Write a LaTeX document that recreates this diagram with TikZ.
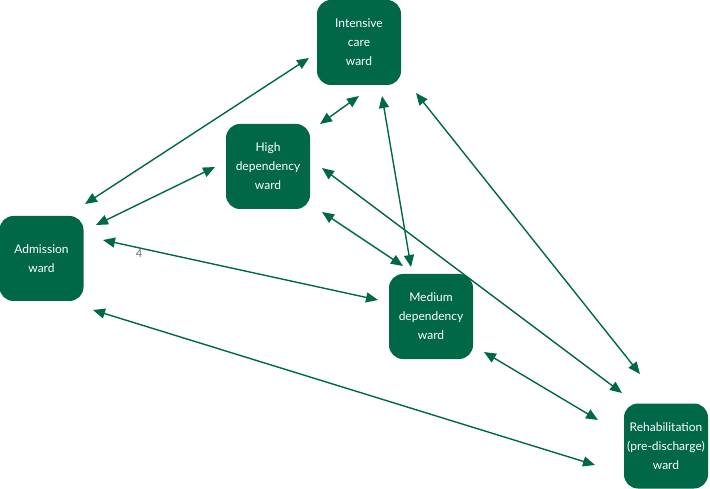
\documentclass[tikz,border=0pt]{standalone}
\usepackage{fontspec}
\setmainfont{Lato}
\usetikzlibrary{arrows.meta}
\definecolor{ward}{RGB}{0,103,71}
\definecolor{lbl}{RGB}{110,110,110}
\tikzset{
  wardbox/.style={draw=none, fill=ward, rounded corners=14pt, minimum width=84pt, minimum height=85pt,
    inner sep=0pt, text=white, align=center, font=\fontsize{12}{19}\selectfont},
  link/.style={draw=ward, line width=1.4pt, {Triangle[length=12pt,width=10pt]}-{Triangle[length=12pt,width=10pt]}}
}
\begin{document}
\begin{tikzpicture}[x=1pt,y=-1pt]
\useasboundingbox (0,0) rectangle (710,489);
% wards
\node[wardbox] (icu) at (359,42.5) {Intensive\\care\\ward};
\node[wardbox] (hdu) at (268,166.5) {High\\dependency\\ward};
\node[wardbox] (adm) at (41.5,258.5) {Admission\\ward};
\node[wardbox] (mdu) at (431,316.5) {Medium\\dependency\\ward};
\node[wardbox] (reh) at (666,446) {Rehabilitation\\(pre-discharge)\\ward};
% connector end points
\coordinate (adm-icu) at (85,204);   \coordinate (icu-adm) at (309,58);
\coordinate (adm-hdu) at (96,225);   \coordinate (hdu-adm) at (215,167);
\coordinate (adm-mdu) at (103,240);  \coordinate (mdu-adm) at (378,300);
\coordinate (adm-reh) at (93,310);   \coordinate (reh-adm) at (595,465);
\coordinate (hdu-icu) at (320,124);  \coordinate (icu-hdu) at (359,96);
\coordinate (icu-mdu) at (382,96);   \coordinate (mdu-icu) at (411,267);
\coordinate (hdu-mdu) at (322,212);  \coordinate (mdu-hdu) at (403,266);
\coordinate (hdu-reh) at (322,168);  \coordinate (reh-hdu) at (622,393);
\coordinate (icu-reh) at (416,93);   \coordinate (reh-icu) at (640,374);
\coordinate (mdu-reh) at (484,352);  \coordinate (reh-mdu) at (598,420);
% connectors
\draw[link] (adm-icu) -- (icu-adm);
\draw[link] (adm-hdu) -- (hdu-adm);
\draw[link] (adm-mdu) -- (mdu-adm);
\draw[link] (adm-reh) -- (reh-adm);
\draw[link] (hdu-icu) -- (icu-hdu);
\draw[link] (icu-mdu) -- (mdu-icu);
\draw[link] (hdu-mdu) -- (mdu-hdu);
\draw[link] (hdu-reh) -- (reh-hdu);
\draw[link] (icu-reh) -- (reh-icu);
\draw[link] (mdu-reh) -- (reh-mdu);
% label
\node[text=lbl, font=\fontsize{11}{13}\selectfont, inner sep=0pt] (four) at (139,254) {4};
\end{tikzpicture}
\end{document}
